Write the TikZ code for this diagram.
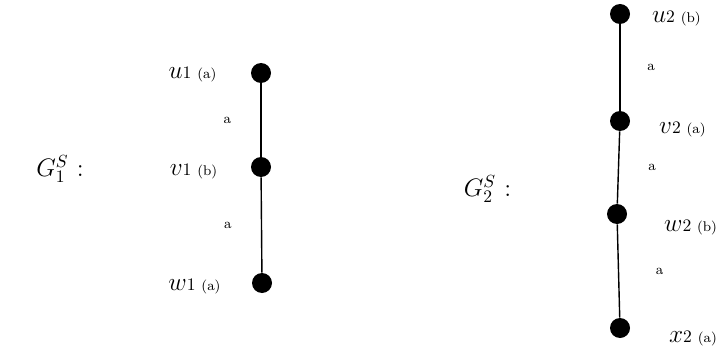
\documentclass[tikz,border=0pt]{standalone}
\usepackage{amsmath}
\usepackage{tikz}

\begin{document}
\begin{tikzpicture}[
    vertex/.style={circle, fill=black, inner sep=0pt, minimum size=0.4cm},
    vlabel/.style={inner sep=1pt},
    elabel/.style={font=\footnotesize, inner sep=1pt},
    edge/.style={thick}
]
  \useasboundingbox (0,0) rectangle (14.52,6.98);

  % First graph
  \node (g1) at (1.2,3.6) {\Large $G_1^S$ :};
  \node[vertex] (u1) at (5.22,5.52) {};
  \node[vertex] (v1) at (5.22,3.64) {};
  \node[vertex] (w1) at (5.24,1.32) {};
  \node[vlabel] (lu1) at (3.85,5.5) {\Large $u$\normalsize 1 \footnotesize (a)};
  \node[vlabel] (lv1) at (3.87,3.55) {\Large $v$\normalsize 1 \footnotesize (b)};
  \node[vlabel] (lw1) at (3.89,1.26) {\Large $w$\normalsize 1 \footnotesize (a)};
  \draw[edge] (u1) -- node[elabel, pos=0.5, left=0.55cm] {a} (v1);
  \draw[edge] (v1) -- node[elabel, pos=0.5, left=0.55cm] {a} (w1);

  % Second graph
  \node (g2) at (9.75,3.2) {\Large $G_2^S$ :};
  \node[vertex] (u2) at (12.4,6.7) {};
  \node[vertex] (v2) at (12.4,4.56) {};
  \node[vertex] (w2) at (12.34,2.7) {};
  \node[vertex] (x2) at (12.4,0.42) {};
  \node[vlabel, anchor=west] (lu2) at (13.0,6.62) {\Large $u$\normalsize 2 \footnotesize (b)};
  \node[vlabel, anchor=west] (lv2) at (13.14,4.4) {\Large $v$\normalsize 2 \footnotesize (a)};
  \node[vlabel, anchor=west] (lw2) at (13.24,2.44) {\Large $w$\normalsize 2 \footnotesize (b)};
  \node[vlabel, anchor=west] (lx2) at (13.34,0.22) {\Large $x$\normalsize 2 \footnotesize (a)};
  \draw[edge] (u2) -- node[elabel, pos=0.5, right=0.5cm] {a} (v2);
  \draw[edge] (v2) -- node[elabel, pos=0.5, right=0.55cm] {a} (w2);
  \draw[edge] (w2) -- node[elabel, pos=0.5, right=0.7cm] {a} (x2);
\end{tikzpicture}
\end{document}
